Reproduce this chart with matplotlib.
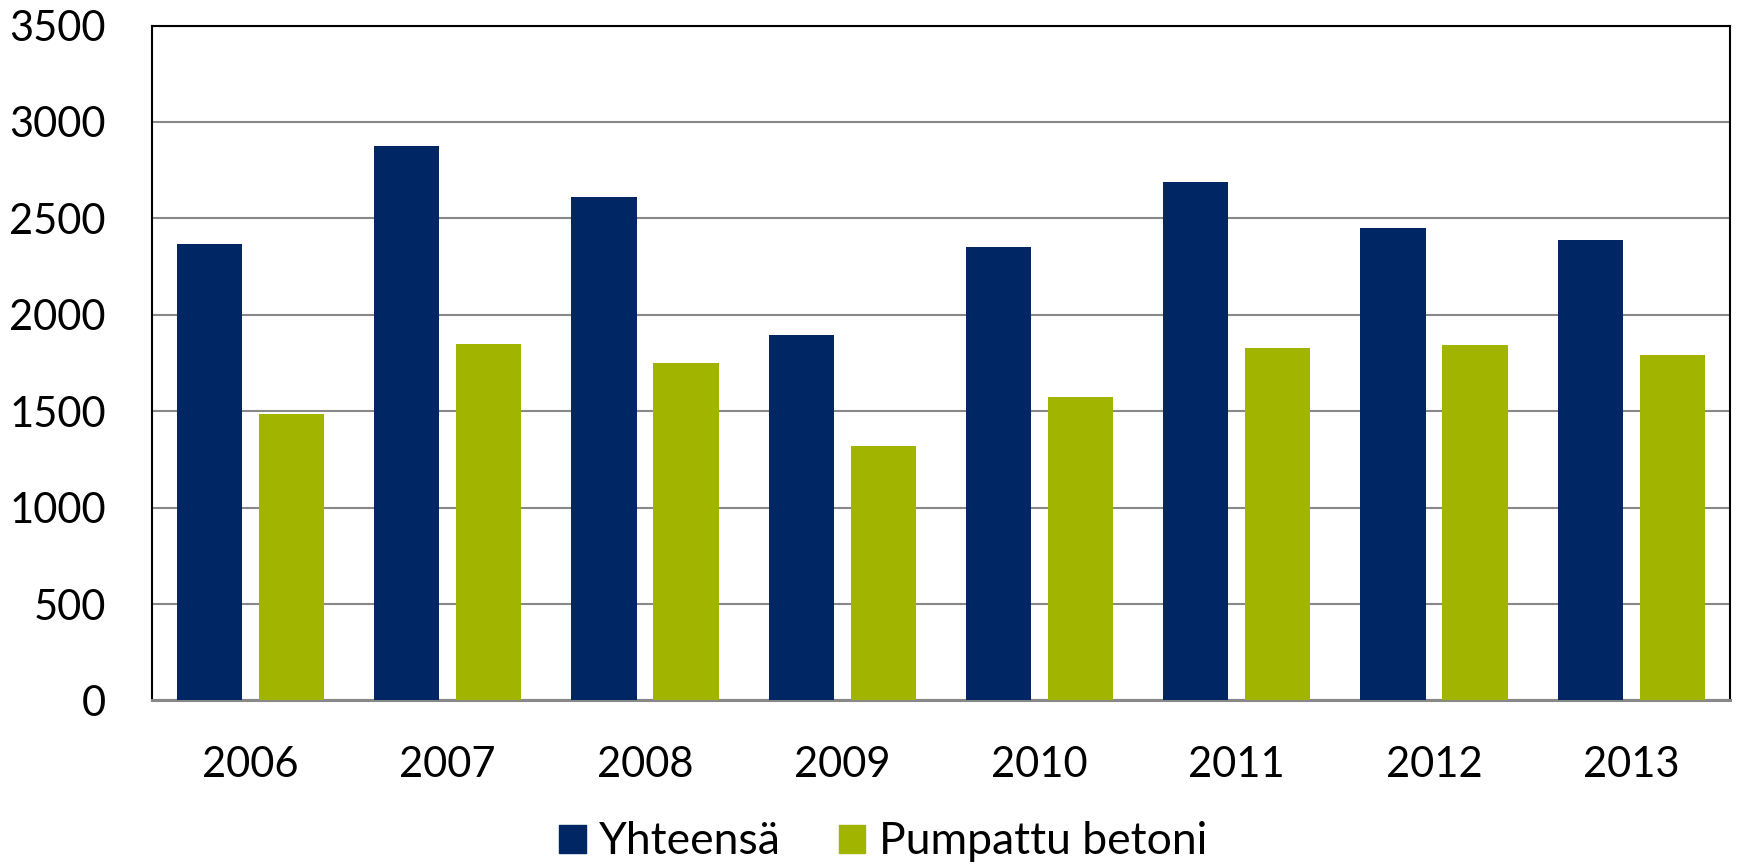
import numpy as np
import matplotlib.pyplot as plt
from matplotlib.patches import Patch

# data
years = ['2006', '2007', '2008', '2009', '2010', '2011', '2012', '2013']
yhteensa = [2369, 2876, 2613, 1893, 2352, 2689, 2450, 2390]
pumpattu = [1488, 1850, 1750, 1317, 1575, 1829, 1845, 1793]

labels = ['Yhteensä', 'Pumpattu betoni']
colors = ['#002663', '#A0B400']

plt.rcParams['font.family'] = ['Lato', 'DejaVu Sans']

fig = plt.figure(figsize=(17.38, 8.68), dpi=100)
ax = fig.add_axes([0.0873, 0.193, 0.9081, 0.7776])

x = np.arange(len(years))
w = 0.331
off = 0.208
ax.bar(x - off, yhteensa, w, color=colors[0], zorder=3)
ax.bar(x + off, pumpattu, w, color=colors[1], zorder=3)

ax.set_xlim(-0.5, len(years) - 0.5)
ax.set_ylim(0, 3500)
ax.set_yticks(np.arange(0, 3501, 500))
ax.set_xticks(x)
ax.set_xticklabels(years)

ax.yaxis.grid(True, color='#888888', linewidth=1.5, zorder=0)
ax.set_axisbelow(True)

ax.tick_params(axis='both', length=0, labelsize=30)
ax.tick_params(axis='y', pad=33)
ax.tick_params(axis='x', pad=33)

for s in ['left', 'top', 'right']:
    ax.spines[s].set_color('black')
    ax.spines[s].set_linewidth(1.5)
ax.spines['bottom'].set_color('#888888')
ax.spines['bottom'].set_linewidth(2.2)

handles = [Patch(color=c, label=l) for c, l in zip(colors, labels)]
fig.legend(handles=handles, loc='center', bbox_to_anchor=(0.508, 0.03),
           ncol=2, frameon=False, fontsize=32,
           handlelength=0.6, handleheight=0.6,
           handletextpad=0.3, columnspacing=1.3)

fig.savefig('out.png', dpi=100)
